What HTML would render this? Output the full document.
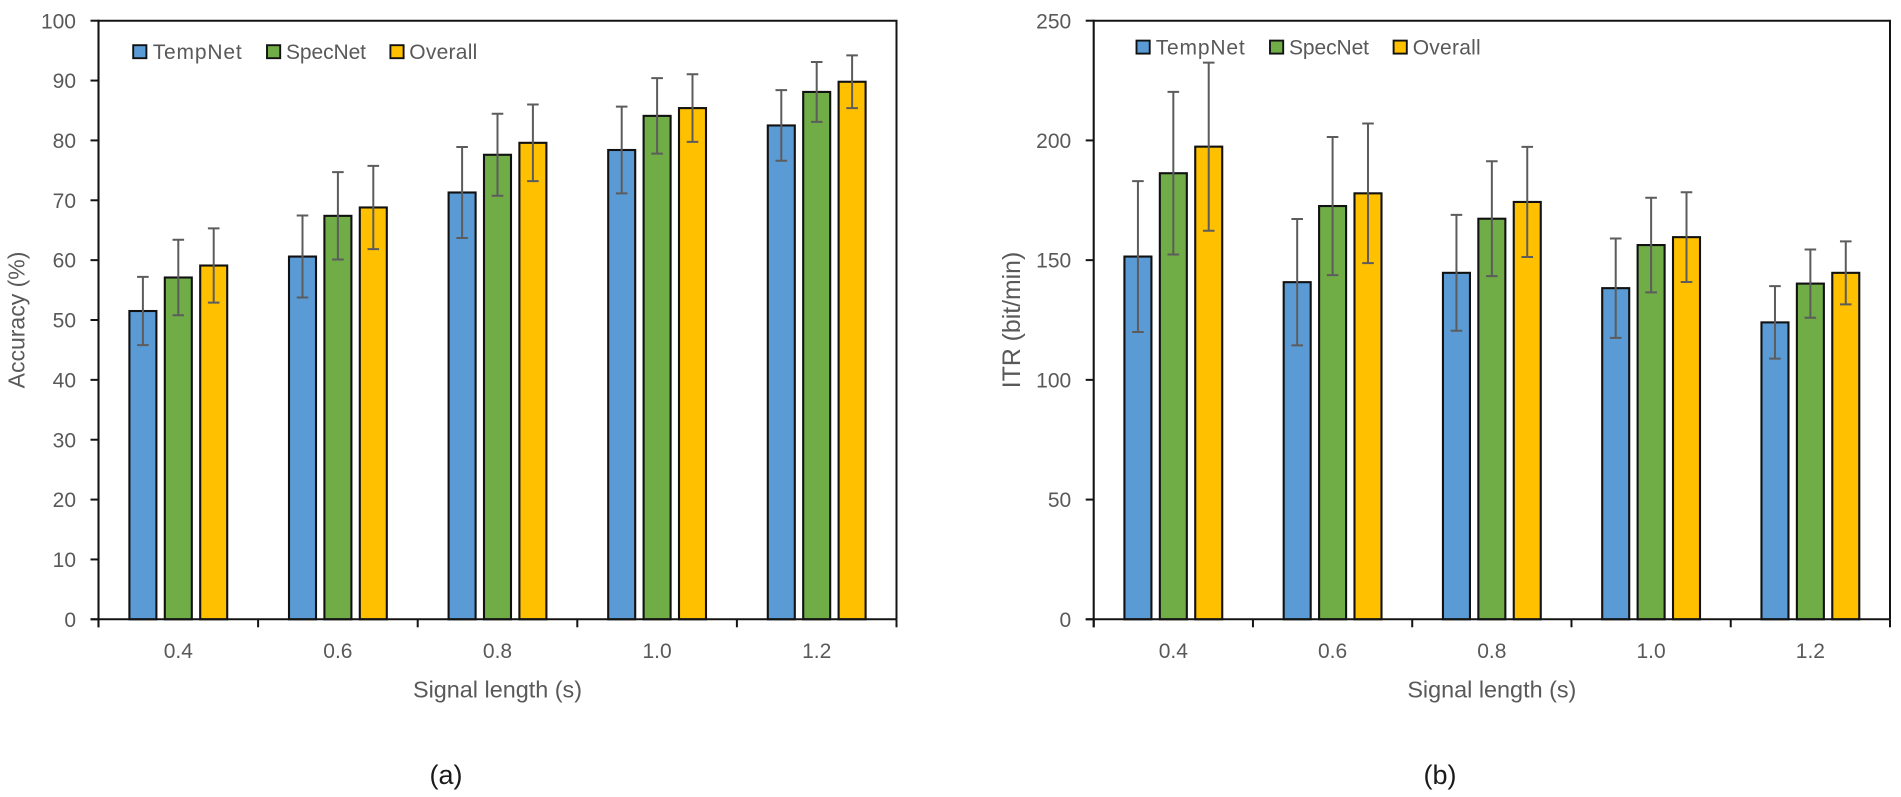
<!DOCTYPE html>
<html lang="en">
<head>
<meta charset="utf-8">
<title>TempNet, SpecNet and Overall accuracy and ITR by signal length</title>
<style>
html,body{margin:0;padding:0;background:#fff;}
svg{display:block;}
text{font-family:"Liberation Sans",sans-serif;fill:#595959;}
</style>
</head>
<body>
<svg id="figure" xmlns="http://www.w3.org/2000/svg" width="1901" height="797" viewBox="0 0 1901 797">
  <rect width="1901" height="797" fill="#fff"/>
  <g id="panel-a"></g>
  <g id="panel-b"></g>
  <text x="446" y="784" font-size="27" text-anchor="middle" style="fill:#1a1a1a">(a)</text>
  <text x="1440" y="784" font-size="27" text-anchor="middle" style="fill:#1a1a1a">(b)</text>
</svg>
<script>
var categories = ['0.4', '0.6', '0.8', '1.0', '1.2'];
var seriesNames = ['TempNet', 'SpecNet', 'Overall'];

var accuracyTicks = [0, 10, 20, 30, 40, 50, 60, 70, 80, 90, 100];
var accuracyTempNet = [51.5, 60.6, 71.3, 78.4, 82.5];
var accuracySpecNet = [57.1, 67.4, 77.6, 84.1, 88.1];
var accuracyOverall = [59.1, 68.8, 79.6, 85.4, 89.8];
var accuracyTempNetErr = [5.7, 6.85, 7.6, 7.25, 5.9];
var accuracySpecNetErr = [6.3, 7.3, 6.85, 6.3, 5.0];
var accuracyOverallErr = [6.2, 6.95, 6.4, 5.65, 4.4];

var itrTicks = [0, 50, 100, 150, 200, 250];
var itrTempNet = [151.5, 140.8, 144.7, 138.3, 124.0];
var itrSpecNet = [186.3, 172.6, 167.3, 156.3, 140.2];
var itrOverall = [197.4, 177.9, 174.3, 159.6, 144.7];
var itrTempNetErr = [31.5, 26.4, 24.2, 20.75, 15.15];
var itrSpecNetErr = [33.95, 28.85, 24.0, 19.75, 14.25];
var itrOverallErr = [35.1, 29.15, 23.0, 18.75, 13.15];

var NS = 'http://www.w3.org/2000/svg';
var colors = ['#5B9BD5', '#70AD47', '#FFC000'];
var AXIS = '#141414';

function make(parent, tag, attrs, txt) {
  var el = document.createElementNS(NS, tag);
  for (var k in attrs) el.setAttribute(k, attrs[k]);
  if (txt !== undefined) el.textContent = txt;
  parent.appendChild(el);
  return el;
}

function drawChart(opts) {
  var g = document.getElementById(opts.id);
  var step = (opts.right - opts.left) / categories.length;
  var yMax = opts.ticks[opts.ticks.length - 1];
  var yScale = function (v) { return opts.bottom - (v / yMax) * (opts.bottom - opts.top); };
  var xScale = function (i, s) { return opts.left + (i + 0.5) * step + (s - 1) * 35.4; };
  var barW = 27;

  opts.values.forEach(function (vals, s) {
    vals.forEach(function (v, i) {
      var bar = make(g, 'rect', {
        x: xScale(i, s) - barW / 2, y: yScale(v), width: barW, height: opts.bottom - yScale(v),
        fill: colors[s], stroke: '#111', 'stroke-width': 2.1
      });
      
      
    });
  });

  opts.values.forEach(function (vals, s) {
    vals.forEach(function (v, i) {
      var cx = xScale(i, s);
      var hi = yScale(v + opts.errors[s][i]);
      var lo = yScale(v - opts.errors[s][i]);
      var d = 'M' + cx + ' ' + hi + 'V' + lo + 'M' + (cx - 5.8) + ' ' + hi + 'H' + (cx + 5.8) + 'M' + (cx - 5.8) + ' ' + lo + 'H' + (cx + 5.8);
      var err = make(g, 'path', { d: d, fill: 'none', stroke: '#5c5c5c', 'stroke-width': 2 });
      
      
    });
  });

  var frame = make(g, 'path', {
    d: 'M' + opts.left + ' ' + opts.top + 'H' + opts.right + 'V' + opts.bottom,
    fill: 'none', stroke: AXIS, 'stroke-width': 2
  });
  
  

  var yAxis = make(g, 'line', { x1: opts.left, x2: opts.left, y1: opts.top - 1, y2: opts.bottom + 8, stroke: AXIS, 'stroke-width': 2.1 });
  
  

  var xAxis = make(g, 'line', { x1: opts.left - 8, x2: opts.right, y1: opts.bottom, y2: opts.bottom, stroke: AXIS, 'stroke-width': 2 });
  
  

  opts.ticks.forEach(function (t) {
    var y = yScale(t);
    var tick = make(g, 'line', { x1: opts.left - 8, x2: opts.left, y1: y, y2: y, stroke: AXIS, 'stroke-width': 2 });
    
    
    var label = make(g, 'text', { x: opts.left - 22.5, y: y + 7.6, 'font-size': 21, 'text-anchor': 'end' }, String(t));
    
    
  });

  for (var i = 0; i <= categories.length; i++) {
    var tx = opts.left + i * step;
    var xt = make(g, 'line', { x1: tx, x2: tx, y1: opts.bottom, y2: opts.bottom + 8, stroke: AXIS, 'stroke-width': 2 });
    
    
  }

  categories.forEach(function (c, i) {
    var xl = make(g, 'text', { x: opts.left + (i + 0.5) * step, y: 658, 'font-size': 21, 'text-anchor': 'middle' }, c);
    
    
  });

  var xTitle = make(g, 'text', { x: (opts.left + opts.right) / 2, y: 697.5, 'font-size': 23.4, 'text-anchor': 'middle' }, 'Signal length (s)');
  
  

  var yTitle = make(g, 'text', {
    x: 0, y: 0, 'font-size': opts.yTitleSize, 'text-anchor': 'middle',
    transform: 'translate(' + opts.yTitleX + ' 320) rotate(-90)'
  }, opts.yTitle);
  
  

  seriesNames.forEach(function (n, s) {
    var sw = make(g, 'rect', {
      x: opts.legendSwatchX[s], y: opts.legendY, width: 13.2, height: 13,
      fill: colors[s], stroke: '#111', 'stroke-width': 1.9
    });
    
    
    var lt = make(g, 'text', {
      x: opts.legendTextX[s], y: opts.legendY + 14, 'font-size': 21,
      textLength: [89, 80, 68][s], lengthAdjust: 'spacing'
    }, n);
    
    
  });
}

drawChart({
  id: 'panel-a', left: 98.5, right: 896.5, top: 20.7, bottom: 619.3,
  ticks: accuracyTicks,
  values: [accuracyTempNet, accuracySpecNet, accuracyOverall],
  errors: [accuracyTempNetErr, accuracySpecNetErr, accuracyOverallErr],
  yTitle: 'Accuracy (%)', yTitleX: 24.5, yTitleSize: 23,
  legendSwatchX: [133.2, 267, 390.4], legendTextX: [152.7, 286, 409.3], legendY: 45.2
});

drawChart({
  id: 'panel-b', left: 1093.7, right: 1890, top: 20.7, bottom: 619.3,
  ticks: itrTicks,
  values: [itrTempNet, itrSpecNet, itrOverall],
  errors: [itrTempNetErr, itrSpecNetErr, itrOverallErr],
  yTitle: 'ITR (bit/min)', yTitleX: 1020, yTitleSize: 24.8,
  legendSwatchX: [1136.5, 1270, 1393.6], legendTextX: [1155.7, 1289, 1412.7], legendY: 40.6
});
</script>
</body>
</html>
